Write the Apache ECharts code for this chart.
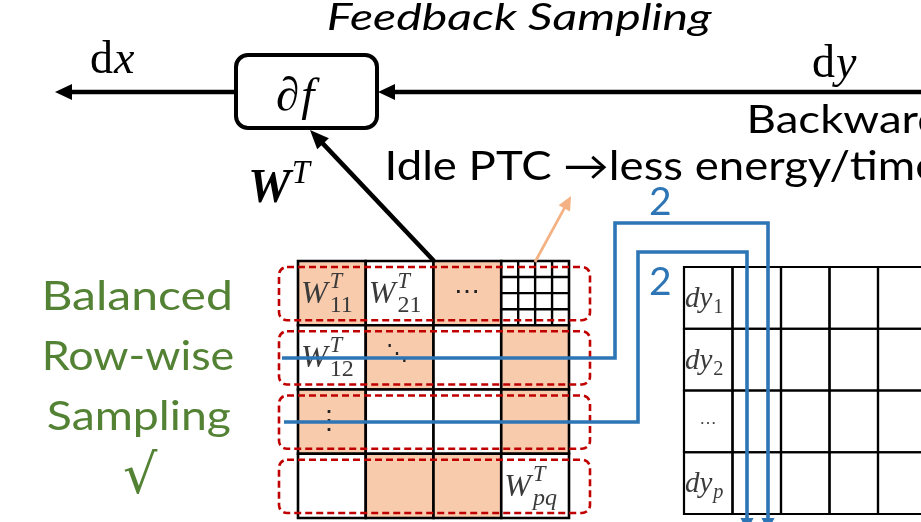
<!DOCTYPE html>
<html><head><meta charset="utf-8">
<script src="https://cdn.jsdelivr.net/npm/echarts@6/dist/echarts.min.js"></script>
<style>html,body{margin:0;padding:0;background:#fff}#c{width:921px;height:522px}</style>
</head><body><div id="c"></div>
<script>
// ================= DATA =================
const titleText   = 'Feedback Sampling';
const directionText = 'Backward';
const idleNote    = 'Idle PTC \u2192less energy/time';
const sideText    = ['Balanced', 'Row-wise', 'Sampling', '\u221A'];
// W^T blocks: 1 = sampled (shaded), 0 = not sampled, 2 = idle PTC detail grid
const wFill = [
  [1, 0, 1, 2],
  [0, 1, 0, 1],
  [1, 0, 0, 1],
  [0, 1, 1, 0]
];
const wCellLabels = [
  {r: 0, c: 0, sub: '11'}, {r: 0, c: 1, sub: '21'},
  {r: 1, c: 0, sub: '12'}, {r: 3, c: 3, sub: 'pq', subItalic: true}
];
const wDots = [{r: 0, c: 2, t: '\u22EF'}, {r: 1, c: 1, t: '\u22F1'}, {r: 2, c: 0, t: '\u22EE'}];
const dySubs = ['1', '2', '\u2026', 'p'];
const dyCols = 6;
const sampleCounts = ['2', '2'];
const subGridN = 4;

// ================= LAYOUT / STYLE =================
const L = {
  box: {x: 236, y: 55, w: 141, h: 73, r: 12},
  wMat: {x: 298, y: 261, cw: 67.75, rh: 64.25},
  dyMat: {x: 684, y: 267, cw: 48.5, rh: 61.75},
  frame: {x0: 279, x1: 590, padTop: 6, padBot: 5, r: 8},
  flow: [ [[921, 92], [378, 92]], [[236, 92], [55, 92]], [[434, 261], [310, 130]] ],
  idleArrow: [[535, 262], [571, 196]],
  routes: [
    [[282, 358], [615, 358], [615, 223], [768, 223], [768, 531]],
    [[284, 422], [638, 422], [638, 252], [747, 252], [747, 531]]
  ],
  countPos: [[660, 201], [660, 281]]
};
const ORANGE = '#F8CBAD', GREEN = '#548235', BLUE = '#2E75B6', RED = '#C00000', ORANGE_LINE = '#F4B183', INK = '#3A3A3A';
const SANS = 'Lato, "Open Sans", sans-serif';
const SERIF = '"Liberation Serif", "DejaVu Serif", serif';
const SYM = '"DejaVu Serif", serif';

// ================= HELPERS =================
const mctx = document.createElement('canvas').getContext('2d');
function fontOf(o) { return (o.italic ? 'italic ' : '') + (o.bold ? 'bold ' : '') + o.size + 'px ' + o.family; }
function meas(t, o) { mctx.font = fontOf(o); mctx.textBaseline = 'middle'; mctx.textAlign = 'left'; return mctx.measureText(t); }
function rawText(t, px, pyMid, o, fill, sx) {
  return {type: 'text', x: px, y: pyMid, scaleX: sx || 1, silent: true,
    style: {text: t, font: fontOf(o), fill: fill, align: 'left', verticalAlign: 'middle', textAlign: 'left', textVerticalAlign: 'middle'}};
}
function baseText(api, t, x, baseY, o, fill, sx) {
  const p = api.coord([x, baseY]);
  const off = meas('H', o).actualBoundingBoxDescent;
  return rawText(t, p[0], p[1] - off, o, fill, sx);
}
function centerText(api, t, cx, cy, o, fill) {
  const p = api.coord([cx, cy]);
  const m = meas(t, o);
  const l = -m.actualBoundingBoxLeft, r = m.actualBoundingBoxRight;
  const tp = -m.actualBoundingBoxAscent, b = m.actualBoundingBoxDescent;
  return rawText(t, p[0] - (l + r) / 2, p[1] - (tp + b) / 2, o, fill);
}
function fitText(api, it) {
  const o = {italic: !!it.italic, size: it.size, family: SANS};
  const ref = it.fit || it.t;
  const m = meas(ref, o);
  const inkW = m.actualBoundingBoxLeft + m.actualBoundingBoxRight;
  const sx = ((it.fitR) - it.inkL) / inkW;
  const x = it.inkL + m.actualBoundingBoxLeft * sx;
  return baseText(api, it.t, x, it.base, o, it.fill || '#000', sx);
}
function mathGroup(api, it) {
  const ch = []; let cx = it.x, prevStart = it.x, maxEnd = it.x;
  it.runs.forEach(r => {
    const o = {italic: !!r.italic, bold: !!r.bold, size: it.size * (r.scale || 1), family: it.family || SERIF};
    const sx0 = r.stack ? prevStart : cx + (r.gap || 0);
    const w = meas(r.t, o).width;
    ch.push(baseText(api, r.t, sx0, it.base + (r.rise || 0), o, it.fill || '#000'));
    prevStart = sx0; maxEnd = Math.max(maxEnd, sx0 + w); cx = maxEnd;
  });
  return ch;
}
function arrowEls(api, pts, color, lw, hl, hw) {
  const P = pts.map(p => api.coord(p));
  const n = P.length, tip = P[n - 1], prev = P[n - 2];
  const dx = tip[0] - prev[0], dy = tip[1] - prev[1], len = Math.hypot(dx, dy);
  const ux = dx / len, uy = dy / len;
  const bx = tip[0] - ux * hl, by = tip[1] - uy * hl;
  const lp = P.slice(0, n - 1).concat([[tip[0] - ux * hl * 0.7, tip[1] - uy * hl * 0.7]]);
  return [
    {type: 'polyline', shape: {points: lp}, style: {stroke: color, lineWidth: lw, fill: null, lineJoin: 'miter'}},
    {type: 'polygon', shape: {points: [tip, [bx - uy * hw, by + ux * hw], [bx + uy * hw, by - ux * hw]]}, style: {fill: color}}
  ];
}

const series = [];
function cs(name, n, render) {
  series.push({type: 'custom', name: name, coordinateSystem: 'cartesian2d', silent: true, animation: false,
    data: Array.from({length: n}, (_, i) => [i, 0]),
    renderItem: (params, api) => ({type: 'group', children: render(params.dataIndex, api)})});
}

// ---- W^T matrix cells ----
const cellList = [];
wFill.forEach((row, r) => row.forEach((v, c) => cellList.push({r, c, v})));
cs('wCells', cellList.length, (i, api) => {
  const {r, c, v} = cellList[i], M = L.wMat;
  const p0 = api.coord([M.x + c * M.cw, M.y + r * M.rh]);
  const p1 = api.coord([M.x + (c + 1) * M.cw, M.y + (r + 1) * M.rh]);
  const ch = [{type: 'rect', shape: {x: p0[0], y: p0[1], width: p1[0] - p0[0], height: p1[1] - p0[1]},
    style: {fill: v === 1 ? ORANGE : '#fff', stroke: '#000', lineWidth: 2.6}}];
  if (v === 2) {
    for (let k = 1; k < subGridN; k++) {
      const x = p0[0] + (p1[0] - p0[0]) * k / subGridN, y = p0[1] + (p1[1] - p0[1]) * k / subGridN;
      ch.push({type: 'line', shape: {x1: x, y1: p0[1], x2: x, y2: p1[1]}, style: {stroke: '#000', lineWidth: 2.4}});
      ch.push({type: 'line', shape: {x1: p0[0], y1: y, x2: p1[0], y2: y}, style: {stroke: '#000', lineWidth: 2.4}});
    }
  }
  return ch;
});
// ---- W cell labels ----
cs('wLabels', wCellLabels.length + wDots.length, (i, api) => {
  const M = L.wMat;
  if (i < wCellLabels.length) {
    const d = wCellLabels[i];
    return mathGroup(api, {x: M.x + d.c * M.cw + 3, base: M.y + d.r * M.rh + 42, size: 32, fill: INK,
      runs: [{t: 'W', italic: true}, {t: 'T', italic: true, scale: 0.7, rise: -15, gap: 2}, {t: d.sub, italic: !!d.subItalic, scale: 0.75, rise: 9, stack: true}]});
  }
  const d = wDots[i - wCellLabels.length];
  const offs = {'\u22EF': [0, -2], '\u22F1': [-3, -4], '\u22EE': [-3, -1]};
  const o = offs[d.t];
  return [centerText(api, d.t, M.x + (d.c + 0.5) * M.cw + o[0], M.y + (d.r + 0.5) * M.rh + o[1],
    {size: d.t === '\u22F1' ? 22 : 26, family: SYM}, '#222')];
});
// ---- sampling row frames ----
cs('frames', wFill.length, (i, api) => {
  const M = L.wMat, F = L.frame;
  const p0 = api.coord([F.x0, M.y + i * M.rh + F.padTop]), p1 = api.coord([F.x1, M.y + (i + 1) * M.rh - F.padBot]);
  return [{type: 'rect', shape: {x: p0[0], y: p0[1], width: p1[0] - p0[0], height: p1[1] - p0[1], r: F.r},
    style: {fill: 'none', stroke: RED, lineWidth: 2.6, lineDash: [7, 4]}}];
});
// ---- dy matrix ----
cs('dyCells', dySubs.length * dyCols, (i, api) => {
  const D = L.dyMat, r = Math.floor(i / dyCols), c = i % dyCols;
  const p0 = api.coord([D.x + c * D.cw, D.y + r * D.rh]), p1 = api.coord([D.x + (c + 1) * D.cw, D.y + (r + 1) * D.rh]);
  return [{type: 'rect', shape: {x: p0[0], y: p0[1], width: p1[0] - p0[0], height: p1[1] - p0[1]},
    style: {fill: 'none', stroke: '#000', lineWidth: 2.2}}];
});
cs('dyLabels', dySubs.length, (i, api) => {
  const D = L.dyMat, s = dySubs[i];
  if (s === '\u2026') return [centerText(api, s, D.x + 24, D.y + i * D.rh + 32, {size: 17, family: SERIF}, INK)];
  return mathGroup(api, {x: D.x + 1, base: D.y + i * D.rh + 40, size: 29, fill: INK,
    runs: [{t: 'dy', italic: true}, {t: s, italic: s === 'p', scale: 0.7, rise: 6, gap: 1}]});
});
// ---- blue sampling routes ----
cs('routes', L.routes.length, (i, api) => arrowEls(api, L.routes[i], BLUE, 3.6, 13, 6.5));
// ---- black flow arrows + box ----
cs('flow', L.flow.length, (i, api) => arrowEls(api, L.flow[i], '#000', 4.5, i === 2 ? 19 : 17, 8));
cs('box', 1, (i, api) => {
  const B = L.box, p0 = api.coord([B.x, B.y]), p1 = api.coord([B.x + B.w, B.y + B.h]);
  return [{type: 'rect', shape: {x: p0[0], y: p0[1], width: p1[0] - p0[0], height: p1[1] - p0[1], r: B.r},
    style: {fill: '#fff', stroke: '#000', lineWidth: 4}}];
});
cs('idleArrow', 1, (i, api) => arrowEls(api, L.idleArrow, ORANGE_LINE, 2.7, 14, 6.5));
// ---- texts ----
const sansItems = [
  {t: titleText, italic: true, size: 37, inkL: 328, fitR: 713, base: 30},
  {t: directionText, size: 39, inkL: 750, fit: 'Backwar', fitR: 918, base: 133},
  {t: idleNote, size: 40, inkL: 388, fit: 'Idle PTC \u2192less energy/tim', fitR: 913, base: 180},
  {t: sideText[0], size: 40, inkL: 45, fitR: 230, base: 310, fill: GREEN},
  {t: sideText[1], size: 40, inkL: 45, fitR: 233, base: 370, fill: GREEN},
  {t: sideText[2], size: 40, inkL: 48, fitR: 230, base: 430, fill: GREEN}
];
cs('sansTexts', sansItems.length, (i, api) => [fitText(api, sansItems[i])]);
cs('marks', 1 + sampleCounts.length, (i, api) => {
  if (i === 0) return [centerText(api, sideText[3], 141, 471, {size: 54, family: '"DejaVu Sans", sans-serif'}, GREEN)];
  const p = L.countPos[i - 1];
  return [centerText(api, sampleCounts[i - 1], p[0], p[1], {size: 39, family: SANS}, BLUE)];
});
const mathItems = [
  {x: 90, base: 73, size: 46, runs: [{t: 'd'}, {t: 'x', italic: true, gap: 1}]},
  {x: 812, base: 77, size: 46, runs: [{t: 'd'}, {t: 'y', italic: true, gap: 1}]},
  {x: 276, base: 110, size: 47, runs: [{t: '\u2202', italic: true}, {t: 'f', italic: true, gap: 2}]},
  {x: 248, base: 202, size: 48, runs: [{t: 'W', italic: true, bold: true}, {t: 'T', italic: true, scale: 0.68, rise: -19, gap: 1}]}
];
cs('mathTexts', mathItems.length, (i, api) => mathGroup(api, mathItems[i]));

const chart = echarts.init(document.getElementById('c'), null, {renderer: 'canvas'});
chart.setOption({
  animation: false,
  backgroundColor: '#fff',
  grid: {left: 0, right: 0, top: 0, bottom: 0, containLabel: false, outerBoundsMode: 'none'},
  xAxis: {type: 'value', min: 0, max: 921, show: false},
  yAxis: {type: 'value', min: 0, max: 522, inverse: true, show: false},
  series: series
});
</script>
</body></html>
